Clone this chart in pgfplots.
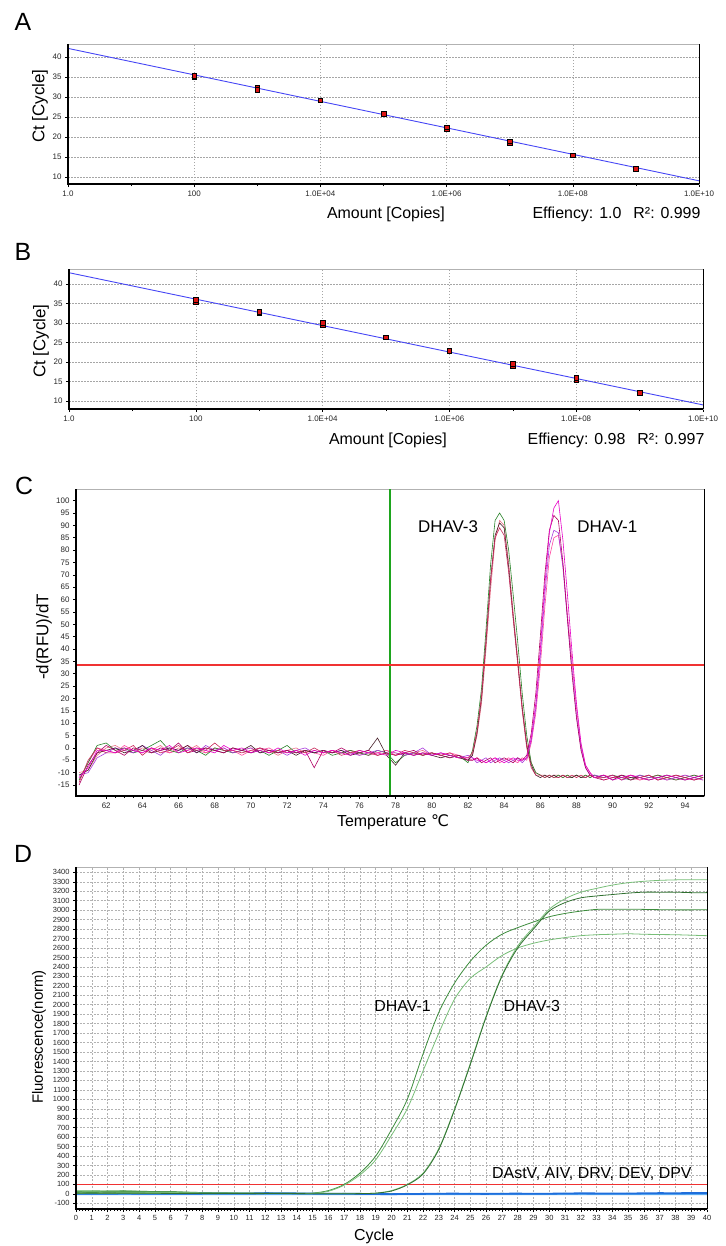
\documentclass[border=0pt]{standalone}
\usepackage{fontspec}
\setmainfont{Liberation Sans}
\newfontfamily\dejavu{DejaVu Sans}
\usepackage{pgfplots}
\usepackage{pgfplotstable}
\pgfplotsset{compat=1.18}

\definecolor{fitblue}{RGB}{70,70,245}
\definecolor{ptred}{RGB}{220,20,20}
\definecolor{vgreen}{RGB}{30,165,30}
\definecolor{hred}{RGB}{240,50,50}
\definecolor{ca1}{RGB}{40,130,40}
\definecolor{ca2}{RGB}{70,30,40}
\definecolor{ca3}{RGB}{200,40,90}
\definecolor{ca4}{RGB}{235,110,135}
\definecolor{cb1}{RGB}{230,0,200}
\definecolor{cb2}{RGB}{175,0,100}
\definecolor{cb3}{RGB}{170,60,220}
\definecolor{cb4}{RGB}{255,70,160}
\definecolor{dg1}{RGB}{60,140,60}
\definecolor{dg2}{RGB}{120,190,120}
\definecolor{bl1}{RGB}{30,110,220}
\definecolor{bl2}{RGB}{90,170,240}

\pgfplotstableread{
T a1 a2 a3 a4 b1 b2 b3 b4
60.5 -13 -11 -14 -10 -12 -15 -11 -13
61.0 -6 -9 -5 -9 -8 -7 -10 -6
61.5 1 -2 0 -3 -1 -2 -4 0
62.0 2 -1 -2 0 -1 1 -2 -1
62.5 -1 0 -2 1 -2 -1 0 -2
63.0 0 -2 -1 -1 0 -3 -1 1
63.5 -2 -1 1 -2 -1 0 -2 -1
64.0 -1 1 -3 0 -2 -1 1 -2
64.5 1 -2 0 -1 0 -2 -1 0
65.0 3 -1 -2 1 -1 0 -3 -1
65.5 -1 0 -1 -2 1 -1 0 -2
66.0 -2 -1 1 0 -2 2 -1 -1
66.5 0 1 -2 -1 -1 -2 0 1
67.0 -1 -2 0 1 0 -1 -2 -1
67.5 -3 0 -1 -2 -1 0 1 -2
68.0 0 -1 2 -1 -2 -1 -1 0
68.5 -1 -2 -1 0 1 -2 0 -1
69.0 -2 0 -1 -2 -1 0 -2 -1
69.5 -1 -1 -2 -1 0 -1 -1 -3
70.0 -2 1 -1 0 -2 -2 0 -1
70.5 -1 -2 0 -2 -1 0 -2 -1
71.0 -3 -1 -2 -1 -2 -1 -1 0
71.5 -1 -2 -1 -3 0 -2 -1 -2
72.0 1 -1 -2 -1 -2 -1 -3 -1
72.5 -2 -3 -1 0 -1 -2 -1 -2
73.0 -1 -1 -2 -2 -3 -1 0 -1
73.5 -2 -2 0 -1 -1 -8 -2 -2
74.0 -1 -1 -2 -2 -2 -1 -1 -3
74.5 -3 -2 -1 -1 -1 -2 -2 -1
75.0 -2 -1 -3 -2 -2 0 -1 -2
75.5 -1 -3 -2 -1 -3 -2 -2 -1
76.0 -2 -2 -1 -3 -1 -2 -3 -2
76.5 -3 -1 -2 -2 -2 -1 -2 -3
77.0 -1 4 -3 -2 -2 -3 -1 -2
77.5 -2 -3 -2 -1 -3 -2 -2 -1
78.0 -6 -7 -3 -2 -1 -3 -2 -3
78.5 -3 -2 -1 -3 -2 -2 -3 -2
79.0 -2 -3 -2 -2 -3 -1 -2 -3
79.5 -3 -2 -3 -1 -2 -3 0 -2
80.0 -2 -3 -2 -3 -3 -2 -3 -2
80.5 -3 -4 -3 -2 -2 -3 -2 -3
81.0 -4 -3 -2 -3 -3 -4 -3 -2
81.5 -3 -4 -4 -3 -4 -3 -4 -3
82.0 -6 -5 -4 -5 -4 -5 -3 -4
82.25 -1 -3 -2 -3 -4 -5 -4 -5
82.5 9 6 7 5 -5 -4 -6 -4
82.75 24 20 21 18 -5 -6 -5 -5
83.0 48 43 44 40 -6 -5 -4 -6
83.25 74 68 68 64 -5 -4 -6 -5
83.5 92 86 85 84 -4 -6 -5 -4
83.75 95 91 89 92 -5 -5 -4 -6
84.0 92 89 86 90 -6 -4 -5 -5
84.25 80 73 71 75 -5 -5 -6 -4
84.5 62 53 52 55 -4 -6 -5 -5
84.75 43 35 34 36 -5 -4 -4 -6
85.0 22 16 15 17 -5 -5 -6 -4
85.25 5 1 0 2 -4 -3 -4 -5
85.5 -6 -7 -8 -6 4 6 3 2
85.75 -10 -11 -11 -10 18 22 16 14
86.0 -11 -12 -11 -11 40 45 37 33
86.25 -12 -11 -12 -11 66 70 62 57
86.5 -11 -12 -11 -12 87 88 82 77
86.75 -12 -11 -12 -11 97 94 88 85
87.0 -11 -12 -12 -11 100 92 87 86
87.25 -12 -11 -11 -12 84 75 73 74
87.5 -11 -12 -12 -11 62 52 52 54
87.75 -12 -12 -11 -12 39 30 32 35
88.0 -11 -11 -12 -11 18 12 13 16
88.25 -12 -12 -11 -12 2 -1 0 1
88.5 -11 -12 -12 -11 -7 -8 -8 -7
88.75 -12 -11 -11 -12 -10 -11 -11 -10
89.0 -11 -12 -12 -11 -12 -12 -11 -12
89.5 -12 -11 -12 -13 -11 -13 -12 -11
90.0 -11 -13 -11 -12 -13 -12 -11 -12
90.5 -12 -11 -13 -12 -12 -11 -13 -12
91.0 -13 -12 -11 -12 -11 -13 -12 -11
91.5 -11 -12 -12 -13 -12 -12 -11 -13
92.0 -12 -13 -11 -12 -13 -11 -12 -12
92.5 -11 -12 -13 -11 -12 -13 -12 -11
93.0 -12 -11 -12 -13 -11 -12 -13 -12
93.5 -13 -12 -11 -12 -12 -11 -12 -13
94.0 -12 -13 -12 -11 -13 -12 -11 -12
94.5 -11 -12 -13 -12 -12 -13 -12 -11
95.0 -12 -11 -12 -13 -11 -12 -13 -12
}\meltdata

\pgfplotstableread{
c d1 d2 d3 d4 e1 e2 e3 e4
0 12 20 5 8 2 -5 20 30
1 14 22 6 7 3 -6 22 32
2 12 20 5 8 1 -4 25 28
3 15 18 6 7 4 -5 28 30
4 13 17 5 6 2 -6 24 25
5 11 15 4 6 3 -5 20 20
6 12 14 4 5 1 -4 22 18
7 10 12 4 5 2 -5 15 14
8 9 10 3 4 3 -6 10 10
9 8 9 3 4 4 -5 8 8
10 8 8 3 4 5 -4 5 6
11 7 8 3 3 4 -5 5 5
12 7 7 3 3 8 -6 4 4
13 6 6 3 3 7 -5 3 4
14 6 5 2 3 5 -4 2 3
15 8 6 2 2 3 -5 0 2
16 35 28 2 2 2 -6 0 2
17 100 92 2 2 1 -5 1 1
18 220 200 3 3 0 -4 0 1
19 400 360 8 8 -2 -5 -1 0
20 680 620 35 30 -3 -6 0 0
21 1000 900 100 95 -1 -5 1 0
22 1480 1300 220 210 0 -4 0 -1
23 1920 1700 480 470 2 -5 1 0
24 2230 2060 900 890 3 -6 0 0
25 2460 2280 1380 1370 1 -5 -1 1
26 2630 2400 1880 1870 0 -4 0 0
27 2745 2520 2310 2300 2 -5 1 0
28 2815 2600 2620 2600 3 -6 0 1
29 2875 2650 2820 2800 1 -5 0 0
30 2930 2685 3010 2990 2 -4 -1 0
31 2965 2710 3120 3080 4 -5 0 1
32 2990 2730 3190 3130 6 -6 1 0
33 3008 2740 3230 3150 5 -5 0 0
34 3010 2745 3265 3165 3 -4 0 1
35 3010 2750 3290 3180 4 -5 1 0
36 3008 2745 3305 3190 6 -6 0 0
37 3005 2742 3315 3190 8 -5 0 1
38 3003 2740 3320 3190 7 -4 1 0
39 3003 2735 3322 3185 9 -5 0 0
40 3005 2730 3322 3185 10 -6 0 1
}\ampdata

\pgfplotsset{
  panel/.style={
    scale only axis,
    axis line style={gray!60, line width=0.8bp},
    tick label style={font=\fontsize{8}{9}\selectfont, text=black!85},
    /pgf/number format/assume math mode=true,
    /pgf/number format/set thousands separator={},
    tick align=outside,
    xtick pos=left, ytick pos=left,
    major tick length=3bp,
    minor tick length=2bp,
    tick style={black, line width=0.5bp},
    clip=false,
  },
}

\newcommand{\lab}{\fontsize{16}{18}\selectfont}
\newcommand{\rlab}{\fontsize{17}{19}\selectfont}
\newcommand{\plab}{\fontsize{25}{28}\selectfont}

\begin{document}
\begin{tikzpicture}
\useasboundingbox (0,0) rectangle (726bp,-1246bp);

%% ---------------- Panel A ----------------
\begin{axis}[panel, name=A, at={(68bp,-184bp)}, anchor=south west,
  width=631bp, height=140bp,
  xmode=log, xmin=1, xmax=1e10, ymin=8.2, ymax=43.3,
  xtick={1,100,1e4,1e6,1e8,1e10},
  xticklabels={1.0,100,1.0E+04,1.0E+06,1.0E+08,1.0E+10},
  minor xtick={10,1000,1e5,1e7,1e9},
  ytick={10,15,...,40},
  grid=major, grid style={gray!70, dash pattern=on 1.5bp off 1.5bp, line width=0.5bp}]
\addplot[fitblue, line width=0.9bp] coordinates {(1,42.2) (1e10,9.0)};
\addplot[only marks, mark=square*, mark size=2.3bp,
  mark options={fill=ptred, draw=black, line width=0.5bp}] coordinates {
  (100,35.0) (100,35.4) (1000,32.4) (1000,31.8) (1e4,29.2)
  (1e5,25.8) (1e6,22.1) (1e6,22.4) (1e7,18.5) (1e7,18.9) (1e8,15.4) (1e9,12.0)};
\end{axis}
\draw[black, line width=1.8bp] (A.north west) -- (A.south west) -- (A.south east);
\draw[black, line width=0.8bp] (A.south east) -- (A.north east);

%% ---------------- Panel B ----------------
\begin{axis}[panel, name=B, at={(69bp,-409bp)}, anchor=south west,
  width=634bp, height=140bp,
  xmode=log, xmin=1, xmax=1e10, ymin=7.95, ymax=43.85,
  xtick={1,100,1e4,1e6,1e8,1e10},
  xticklabels={1.0,100,1.0E+04,1.0E+06,1.0E+08,1.0E+10},
  minor xtick={10,1000,1e5,1e7,1e9},
  ytick={10,15,...,40},
  grid=major, grid style={gray!70, dash pattern=on 1.5bp off 1.5bp, line width=0.5bp}]
\addplot[fitblue, line width=0.9bp] coordinates {(1,42.9) (1e10,9.0)};
\addplot[only marks, mark=square*, mark size=2.3bp,
  mark options={fill=ptred, draw=black, line width=0.5bp}] coordinates {
  (100,35.5) (100,35.9) (1000,32.5) (1000,32.9) (1e4,29.6) (1e4,30.1)
  (1e5,26.3) (1e6,22.9) (1e7,19.1) (1e7,19.6) (1e8,15.4) (1e8,15.9) (1e9,12.1)};
\end{axis}
\draw[black, line width=1.8bp] (B.north west) -- (B.south west) -- (B.south east);
\draw[black, line width=0.8bp] (B.south east) -- (B.north east);

%% ---------------- Panel C ----------------
\begin{axis}[panel, name=C, at={(76bp,-796bp)}, anchor=south west,
  width=628bp, height=307bp,
  xmin=60.33, xmax=95.05, ymin=-19.45, ymax=104.7,
  xtick={62,64,...,94}, minor x tick num=3,
  ytick={-15,-10,...,100}]
\addplot[ca4, line width=0.6bp] table[x=T,y=a4] {\meltdata};
\addplot[cb4, line width=0.6bp] table[x=T,y=b4] {\meltdata};
\addplot[ca1, line width=0.6bp] table[x=T,y=a1] {\meltdata};
\addplot[cb3, line width=0.6bp] table[x=T,y=b3] {\meltdata};
\addplot[ca2, line width=0.6bp] table[x=T,y=a2] {\meltdata};
\addplot[cb2, line width=0.6bp] table[x=T,y=b2] {\meltdata};
\addplot[ca3, line width=0.6bp] table[x=T,y=a3] {\meltdata};
\addplot[cb1, line width=0.6bp] table[x=T,y=b1] {\meltdata};
\addplot[draw=vgreen, line width=1.6bp] coordinates {(77.68,-19.45) (77.68,104.7)};
\addplot[draw=hred, line width=1.6bp] coordinates {(60.33,33.5) (95.05,33.5)};
\node[font=\fontsize{17}{19}\selectfont] at (axis cs:80.9,89.4) {DHAV-3};
\node[font=\fontsize{17}{19}\selectfont] at (axis cs:89.7,89.4) {DHAV-1};
\end{axis}
\draw[black, line width=1.8bp] (C.north west) -- (C.south west) -- (C.south east);
\draw[black, line width=0.8bp] (C.south east) -- (C.north east);

%% ---------------- Panel D ----------------
\begin{axis}[panel, name=D, at={(76bp,-1209bp)}, anchor=south west,
  width=631bp, height=342bp,
  xmin=0, xmax=40, ymin=-160, ymax=3456,
  xtick={0,1,...,40}, minor x tick num=4,
  ytick={-100,0,...,3400},
  tick label style={font=\fontsize{7.5}{8}\selectfont, text=black!85},
  grid=major, grid style={gray!60, dash pattern=on 2bp off 1.5bp, line width=0.5bp}]
\addplot[dg2, line width=1.6bp, opacity=0.8] table[x=c,y=e4] {\ampdata};
\addplot[dg1, line width=1.6bp, opacity=0.8] table[x=c,y=e3] {\ampdata};
\addplot[bl2, line width=1.6bp] table[x=c,y=e2] {\ampdata};
\addplot[bl1, line width=1.8bp] table[x=c,y=e1] {\ampdata};
\addplot[draw=hred, line width=1.2bp] coordinates {(0,100) (40,100)};
\addplot[dg1, line width=0.8bp, smooth, tension=0.5] table[x=c,y=d1] {\ampdata};
\addplot[dg2, line width=0.8bp, smooth, tension=0.5] table[x=c,y=d2] {\ampdata};
\addplot[dg2, line width=0.8bp, smooth, tension=0.5] table[x=c,y=d3] {\ampdata};
\addplot[dg1!80!black, line width=0.8bp, smooth, tension=0.5] table[x=c,y=d4] {\ampdata};
\node[font=\fontsize{16}{18}\selectfont] at (axis cs:20.7,1986) {DHAV-1};
\node[font=\fontsize{16}{18}\selectfont] at (axis cs:28.9,1986) {DHAV-3};
\node[font=\fontsize{16}{18}\selectfont] at (axis cs:32.7,215) {DAstV, AIV, DRV, DEV, DPV};
\end{axis}
\draw[black, line width=1.8bp] (D.north west) -- (D.south west) -- (D.south east);
\draw[black, line width=0.8bp] (D.south east) -- (D.north east);

%% ---------------- Texts ----------------
\node[font=\plab] at (23bp,-22bp) {A};
\node[font=\plab] at (23bp,-252bp) {B};
\node[font=\plab] at (24bp,-486bp) {C};
\node[font=\plab] at (23bp,-854bp) {D};

\node[font=\rlab, rotate=90] at (40bp,-106bp) {Ct [Cycle]};
\node[font=\lab] at (386bp,-214bp) {Amount [Copies]};
\node[font=\lab, anchor=east] at (704bp,-214bp) {Effiency: 1.0\hspace{12bp}R²: 0.999};

\node[font=\rlab, rotate=90] at (41bp,-341bp) {Ct [Cycle]};
\node[font=\lab] at (388bp,-440bp) {Amount [Copies]};
\node[font=\lab, anchor=east] at (708bp,-440bp) {Effiency: 0.98\hspace{12bp}R²: 0.997};

\node[font=\rlab, rotate=90] at (44bp,-637bp) {-d(RFU)/dT};
\node[font=\lab] at (393bp,-822bp) {Temperature {\dejavu ℃}};

\node[font=\fontsize{15}{17}\selectfont, rotate=90] at (39bp,-1037bp) {Fluorescence(norm)};
\node[font=\lab] at (374bp,-1236bp) {Cycle};
\end{tikzpicture}
\end{document}
